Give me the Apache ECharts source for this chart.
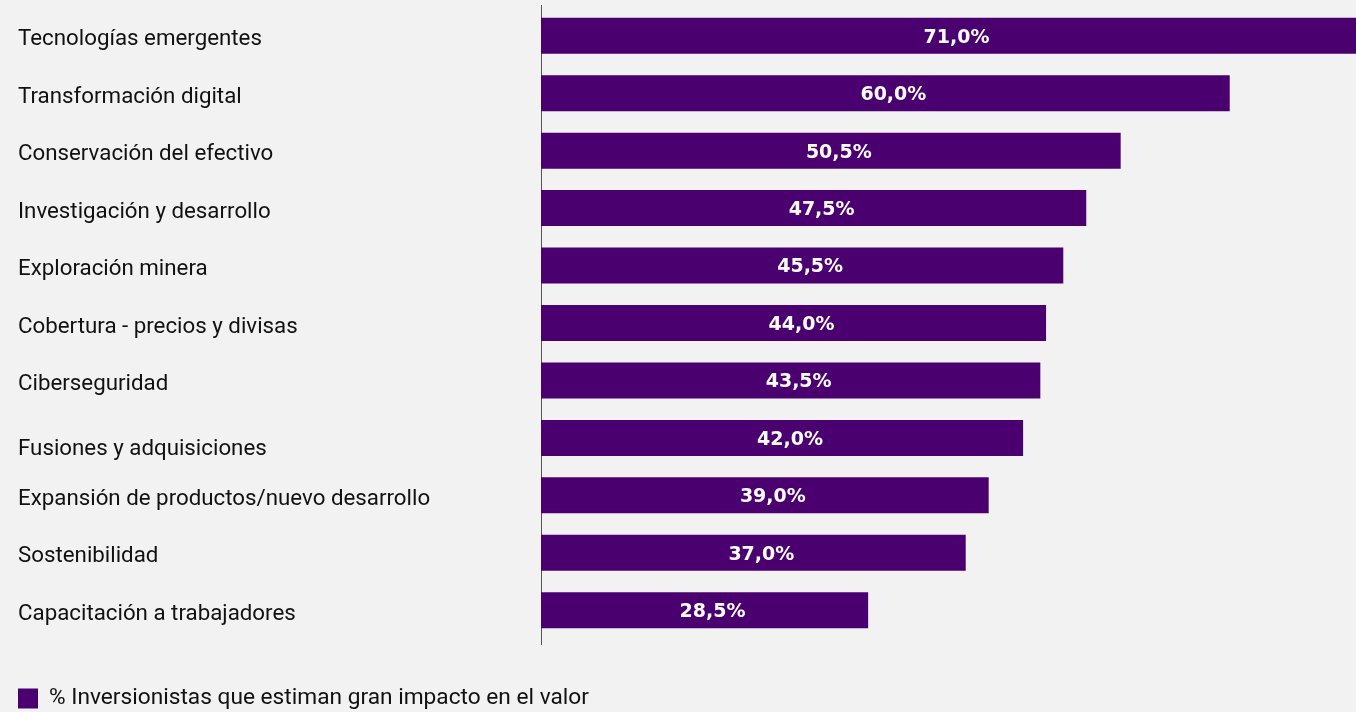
<!DOCTYPE html>
<html>
<head>
<meta charset="utf-8">
<script src="https://cdn.jsdelivr.net/npm/echarts@6/dist/echarts.min.js"></script>
<style>
  html, body { margin: 0; padding: 0; background: #f2f2f2; }
  #chart { width: 1356px; height: 712px; }
</style>
</head>
<body>
<div id="chart"></div>
<script>
// Inversiones con mayor impacto esperado en el valor
const categories = [
  'Tecnologías emergentes',
  'Transformación digital',
  'Conservación del efectivo',
  'Investigación y desarrollo',
  'Exploración minera',
  'Cobertura - precios y divisas',
  'Ciberseguridad',
  'Fusiones y adquisiciones',
  'Expansión de productos/nuevo desarrollo',
  'Sostenibilidad',
  'Capacitación a trabajadores'
];
const values = [71.0, 60.0, 50.5, 47.5, 45.5, 44.0, 43.5, 42.0, 39.0, 37.0, 28.5];
const seriesName = '% Inversionistas que estiman gran impacto en el valor';

const BAR_COLOR = '#4b0070';
const TEXT_COLOR = '#111';
const FONT = 'Roboto';
const LABEL_SIZE = 22.3;

// category label that sits a little lower than its bar
const LOWERED_LABEL = 'Fusiones y adquisiciones';

const chart = echarts.init(document.getElementById('chart'), null, { renderer: 'canvas' });

chart.setOption({
  backgroundColor: '#f2f2f2',
  animation: false,
  grid: { left: 541, right: 0, top: 7, bottom: 73, containLabel: false },
  legend: {
    left: 13,
    top: 682,
    itemWidth: 20,
    itemHeight: 20,
    icon: 'rect',
    textStyle: { fontFamily: FONT, fontSize: 22.7, color: TEXT_COLOR, padding: [0, 0, 0, 6] },
    data: [seriesName]
  },
  xAxis: {
    type: 'value',
    min: 0,
    max: 71,
    show: false
  },
  yAxis: {
    type: 'category',
    inverse: true,
    data: categories,
    axisLine: { show: true, lineStyle: { color: '#555', width: 1 } },
    axisTick: { show: false },
    splitLine: { show: false },
    axisLabel: {
      margin: 523,
      align: 'left',
      fontFamily: FONT,
      fontSize: LABEL_SIZE,
      color: TEXT_COLOR,
      formatter: v => (v === LOWERED_LABEL ? '{low|' : '{n|') + v + '}',
      rich: {
        n: { fontFamily: FONT, fontSize: LABEL_SIZE, color: TEXT_COLOR, padding: [8, 0, 0, 0] },
        low: { fontFamily: FONT, fontSize: LABEL_SIZE, color: TEXT_COLOR, padding: [24, 0, 0, 0] }
      }
    }
  },
  graphic: [
    {
      type: 'line',
      silent: true,
      shape: { x1: 541.5, y1: 5, x2: 541.5, y2: 645 },
      style: { stroke: '#555', lineWidth: 1 }
    }
  ],
  series: [
    {
      name: seriesName,
      type: 'bar',
      data: values,
      barWidth: 36,
      itemStyle: { color: BAR_COLOR },
      label: {
        show: true,
        position: 'inside',
        color: '#fff',
        fontFamily: 'DejaVu Sans',
        fontWeight: 'bold',
        fontSize: 19,
        offset: [8, 2],
        formatter: p => p.value.toFixed(1).replace('.', ',') + '%'
      }
    }
  ]
});
</script>
</body>
</html>
